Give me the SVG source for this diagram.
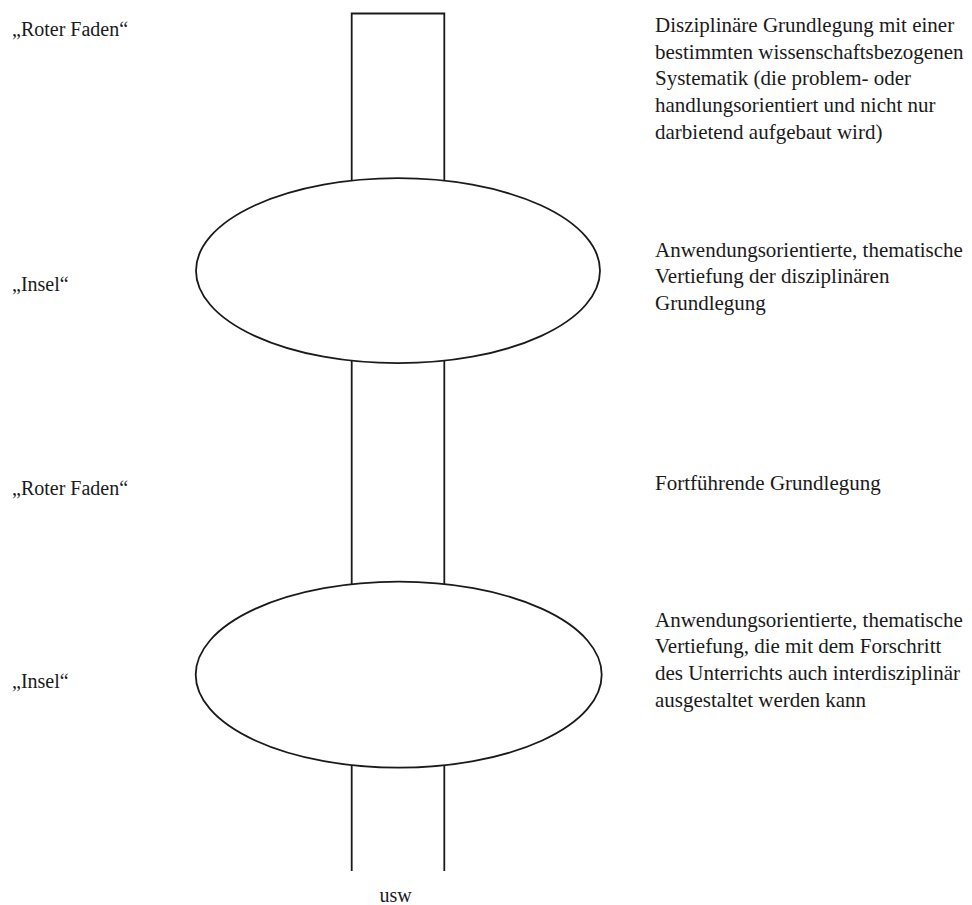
<svg xmlns="http://www.w3.org/2000/svg" width="972" height="905" viewBox="0 0 972 905">
<style>
.s{fill:none;stroke:#1a1a1a;stroke-width:1.8}
.e{fill:#fff;stroke:#1a1a1a;stroke-width:1.8}
text{font-family:"Liberation Serif","Times New Roman",serif;font-size:20px;fill:#1a1a1a}
.r{font-size:21px}
</style>
<rect width="972" height="905" fill="#fff"/>
<g id="connectors">
<path class="s" d="M351.7,181 V13.5 H444.3 V181"/>
<path class="s" d="M351.7,360 V585"/>
<path class="s" d="M444.3,360 V585"/>
<path class="s" d="M351.7,765 V871"/>
<path class="s" d="M444.3,765 V871"/>
</g>
<g id="insel1"><ellipse class="e" cx="398" cy="270.7" rx="202" ry="92.5"/></g>
<g id="insel2"><ellipse class="e" cx="398.7" cy="674.7" rx="203" ry="93"/></g>
<g id="labels-left">
<text x="12" y="36">„Roter Faden“</text>
<text x="12" y="291">„Insel“</text>
<text x="12" y="495">„Roter Faden“</text>
<text x="12" y="688">„Insel“</text>
</g>
<g id="labels-right">
<text class="r" x="655" y="32">Disziplinäre Grundlegung mit einer</text>
<text class="r" x="655" y="58.5">bestimmten wissenschaftsbezogenen</text>
<text class="r" x="655" y="85">Systematik (die problem- oder</text>
<text class="r" x="655" y="112">handlungsorientiert und nicht nur</text>
<text class="r" x="655" y="138.5">darbietend aufgebaut wird)</text>
<text class="r" x="655" y="256.7">Anwendungsorientierte, thematische</text>
<text class="r" x="655" y="283.3">Vertiefung der disziplinären</text>
<text class="r" x="655" y="310">Grundlegung</text>
<text class="r" x="655" y="490">Fortführende Grundlegung</text>
<text class="r" x="655" y="626.7">Anwendungsorientierte, thematische</text>
<text class="r" x="655" y="653.3">Vertiefung, die mit dem Forschritt</text>
<text class="r" x="655" y="680">des Unterrichts auch interdisziplinär</text>
<text class="r" x="655" y="706.7">ausgestaltet werden kann</text>
</g>
<g id="usw"><text x="395.5" y="902" text-anchor="middle">usw</text></g>
</svg>
